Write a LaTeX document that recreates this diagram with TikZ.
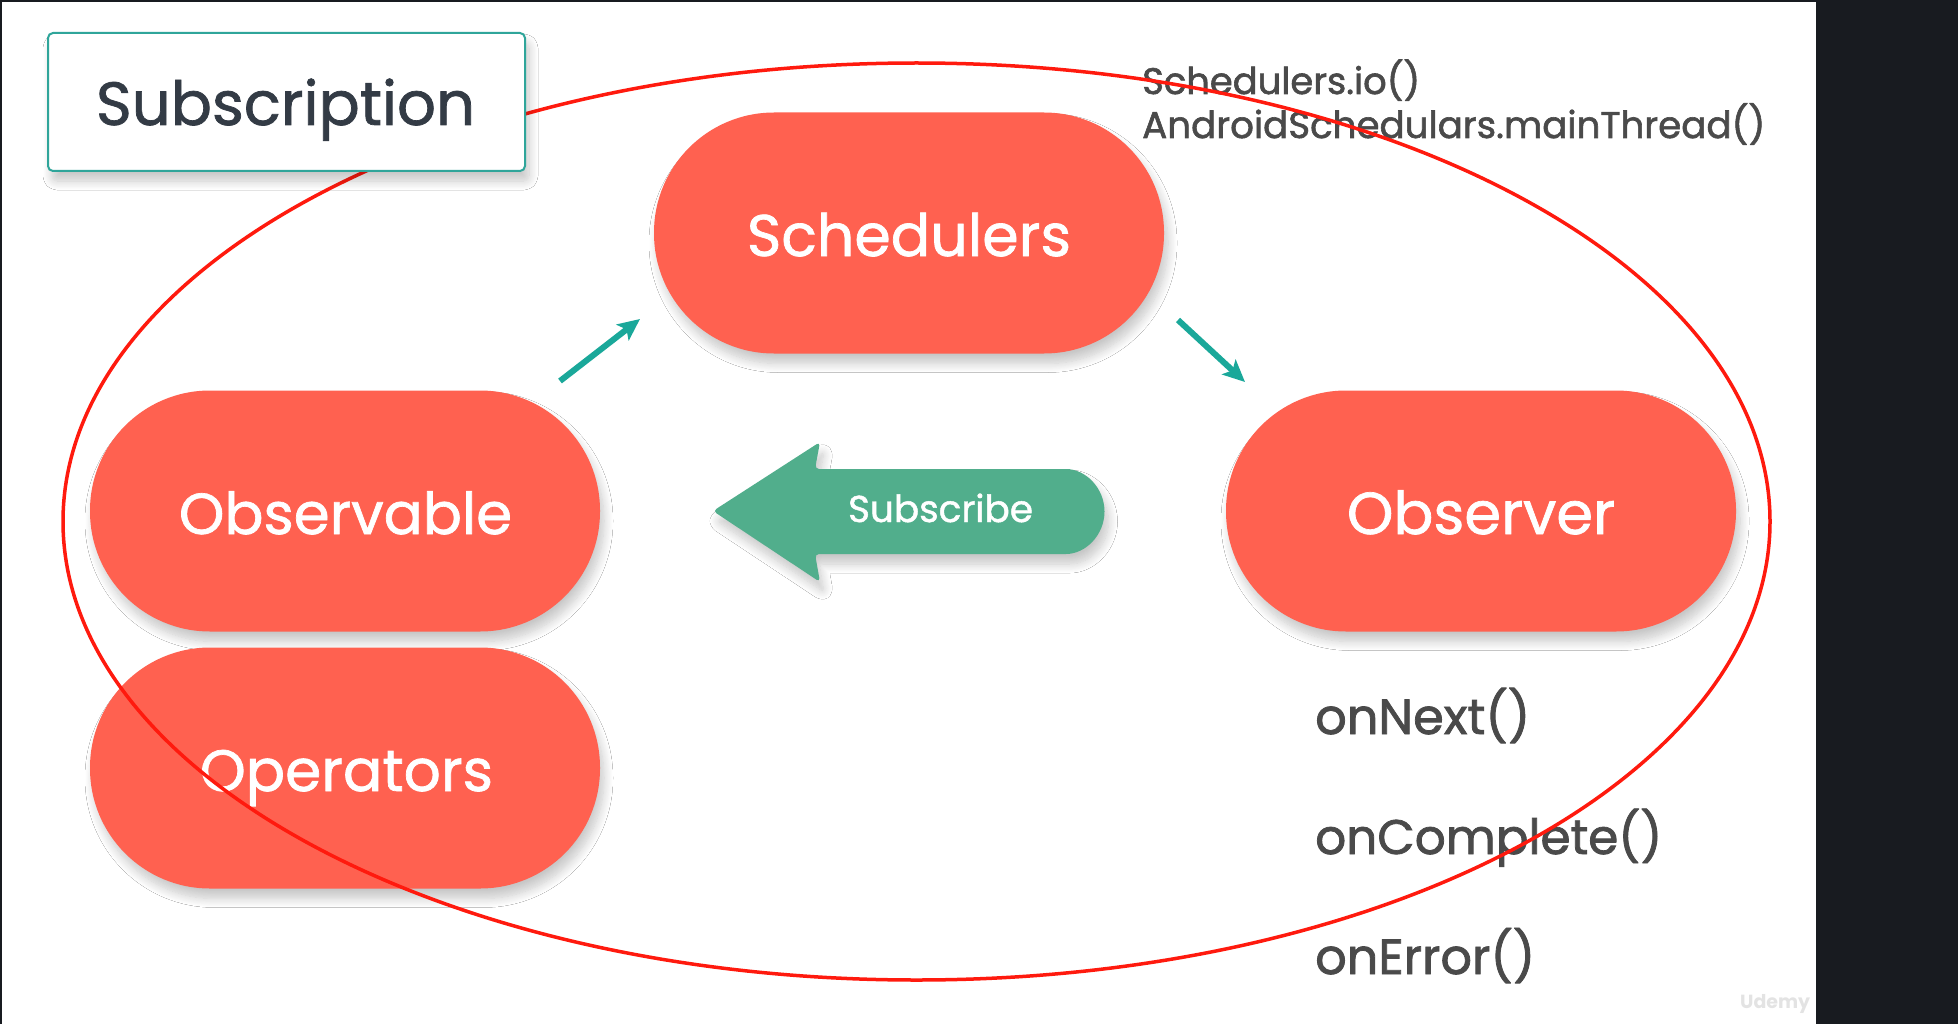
\documentclass[tikz,border=0pt]{standalone}
\usepackage{fontspec}
\setmainfont{Poppins}
\newfontfamily\pillfont{Poppins}[FakeBold=1.2]
\newfontfamily\grayfont{Poppins}[FakeBold=1.6]
\usepackage{graphicx}
\usetikzlibrary{shadows.blur,arrows.meta,shapes.geometric}
\definecolor{coral}{HTML}{FF6150}
\definecolor{subgreen}{HTML}{51AE8C}
\definecolor{tealarrow}{HTML}{1AA89A}
\definecolor{ringred}{HTML}{FF1A0E}
\definecolor{boxteal}{HTML}{2FA59A}
\definecolor{darktext}{HTML}{333B45}
\definecolor{graytext}{HTML}{4A4A4A}
\definecolor{panel}{HTML}{181B20}
\begin{document}
\begin{tikzpicture}[x=1pt,y=-1pt,
  softshadow/.style={blur shadow={shadow xshift=4pt, shadow yshift=-10pt, shadow blur radius=9pt, shadow blur steps=12, shadow opacity=22}},
  pill/.style={fill=coral, rounded corners=120pt, minimum width=510pt, minimum height=241pt, inner sep=0pt, softshadow},
  pilltext/.style={anchor=base, text=white, inner sep=0pt, font=\pillfont},
  graylabel/.style={anchor=base west, text=graytext, inner sep=0pt, font=\grayfont},
  flowarrow/.style={draw=tealarrow, line width=6pt, -{Stealth[length=22pt,width=20pt,inset=5pt]}},
]
\useasboundingbox (0,0) rectangle (1958,1024);
\fill[white] (0,0) rectangle (1958,1024);
\fill[panel] (0,0) rectangle (1958,2);
\fill[panel] (0,0) rectangle (2,1024);
\fill[panel] (1816,0) rectangle (1958,1024);

% pills
\node[pill] (sched) at (909,233) {};
\node[pill] (obsable) at (345,511) {};
\node[pill] (oper) at (345,768) {};
\node[pill] (obser) at (1481,511) {};
\node[pilltext] (schedt) at (909,256) {\resizebox{324pt}{!}{Schedulers}};
\node[pilltext] (obsablet) at (345.5,534) {\resizebox{333pt}{!}{Observable}};
\node[pilltext] (opert) at (346.5,791) {\resizebox{293pt}{!}{Operators}};
\node[pilltext] (obsert) at (1481,534) {\resizebox{268pt}{!}{Observer}};

% subscribe arrow
\fill[subgreen, rounded corners=4pt, softshadow] (713,511) -- (820,442) -- (815,469) -- (1062,469)
  arc[start angle=-90, end angle=90, radius=42.5] -- (815,554) -- (820,582) -- cycle;
\node[pilltext] (subscr) at (940.5,522) {\resizebox{185pt}{!}{Subscribe}};

% small flow arrows
\coordinate (a1s) at (560,381);
\coordinate (a1e) at (640,319);
\coordinate (a2s) at (1178,320);
\coordinate (a2e) at (1245,382);
\draw[flowarrow] (a1s) -- (a1e);
\draw[flowarrow] (a2s) -- (a2e);

% gray labels
\node[graylabel] (io) at (1142,94) {\resizebox{278pt}{!}{Schedulers.io()}};
\node[graylabel] (main) at (1142,138) {\resizebox{623pt}{!}{AndroidSchedulars.mainThread()}};
\node[graylabel] (next) at (1315,734) {\resizebox{215pt}{!}{onNext()}};
\node[graylabel] (compl) at (1315,854) {\resizebox{347pt}{!}{onComplete()}};
\node[graylabel] (err) at (1315,974) {\resizebox{220pt}{!}{onError()}};

% red ring
\node[ellipse, draw=ringred, line width=3.5pt, minimum width=1707pt, minimum height=917pt, inner sep=0pt] (ring) at (916.5,521.5) {};

% subscription box
\node[draw=boxteal, line width=2pt, fill=white, rounded corners=5pt, minimum width=477pt, minimum height=138pt, inner sep=0pt, softshadow] (title) at (286.5,102) {};
\node[anchor=base, text=darktext, inner sep=0pt, font=\pillfont] (titlet) at (285.5,125) {\resizebox{379pt}{!}{Subscription}};

% watermark
\node[anchor=base west, text=gray!22, inner sep=0pt, font=\bfseries] (wm) at (1740,1008) {\resizebox{70pt}{!}{Udemy}};
\end{tikzpicture}
\end{document}
